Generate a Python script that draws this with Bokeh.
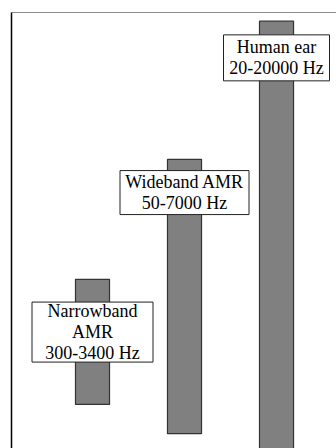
from bokeh.plotting import figure
from bokeh.models import ColumnDataSource, Range1d, LinearAxis, FixedTicker
from bokeh.core.properties import value
from bokeh.embed import file_html
from bokeh.resources import INLINE

# Schematic band diagram (vertical scale: relative frequency level, 0-100)
bands = ["Narrowband AMR", "Wideband AMR", "Human ear"]
labels = ["Narrowband\nAMR\n300-3400 Hz", "Wideband AMR\n50-7000 Hz", "Human ear\n20-20000 Hz"]
band_pos = [1, 2, 3]
band_low = [10.1, 3.4, -5.0]
band_high = [38.8, 66.3, 98.0]
label_level = [26.7, 58.7, 89.6]

# label box sizes (screen px) - styling only
box_w = [121, 129, 106]
box_h = [60, 44, 46]

src = ColumnDataSource(dict(x=band_pos, low=band_low, high=band_high,
                            ly=label_level, text=labels, bw=box_w, bh=box_h))

p = figure(width=336, height=448, output_backend="svg", toolbar_location=None,
           x_range=Range1d(0.1196, 3.652), y_range=Range1d(0, 100),
           x_axis_location=None, y_axis_location=None,
           min_border_left=11, min_border_top=12, min_border_right=0, min_border_bottom=0,
           outline_line_color=None, background_fill_color="white")
p.xgrid.visible = False
p.ygrid.visible = False

left = LinearAxis(ticker=FixedTicker(ticks=[]), axis_line_color="black", axis_line_width=1.5,
                  major_tick_line_color=None, minor_tick_line_color=None,
                  major_tick_in=0, major_tick_out=0, minor_tick_in=0, minor_tick_out=0,
                  major_label_text_font_size="0px", major_label_standoff=0)
top = LinearAxis(ticker=FixedTicker(ticks=[]), axis_line_color="#8a8a8a", axis_line_width=1,
                 major_tick_line_color=None, minor_tick_line_color=None,
                 major_tick_in=0, major_tick_out=0, minor_tick_in=0, minor_tick_out=0,
                 major_label_text_font_size="0px", major_label_standoff=0)
p.add_layout(left, "left")
p.add_layout(top, "above")

p.vbar(x="x", bottom="low", top="high", width=0.37, source=src,
       fill_color="#808080", line_color="#333333", line_width=1.2)

p.rect(x="x", y="ly", width="bw", height="bh", width_units="screen", height_units="screen",
       source=src, fill_color="white", line_color="#222222", line_width=1)

p.text(x="x", y="ly", text="text", source=src, text_font=value("Liberation Serif"),
       text_font_size="18px", text_align="center", text_baseline="middle",
       text_line_height=1.06, text_color="#000000")

open("out.html", "w").write(file_html(p, INLINE))
